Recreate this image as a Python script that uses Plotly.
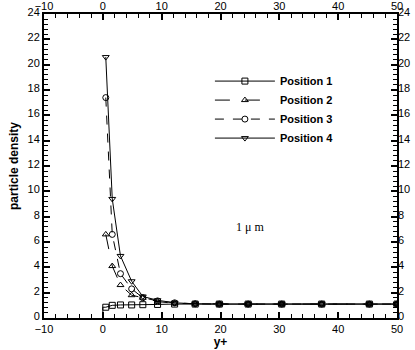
import plotly.graph_objects as go

# data
y_plus = [0.5, 1.6, 3.0, 4.9, 6.8, 9.3, 12.2, 15.7, 19.8, 24.7, 30.4, 37.2, 45.3, 50.0]
pos1 = [0.85, 1.0, 1.03, 1.03, 1.05, 1.07, 1.1, 1.1, 1.1, 1.1, 1.1, 1.1, 1.1, 1.1]
pos2 = [6.6, 4.1, 2.6, 1.8, 1.6, 1.3, 1.15, 1.12, 1.1, 1.1, 1.1, 1.1, 1.1, 1.1]
pos3 = [17.4, 6.6, 3.5, 2.3, 1.6, 1.35, 1.2, 1.12, 1.1, 1.1, 1.1, 1.1, 1.1, 1.1]
pos4 = [20.6, 9.4, 4.9, 2.9, 1.7, 1.4, 1.2, 1.12, 1.1, 1.1, 1.1, 1.1, 1.1, 1.1]
wall_x = [0.0, 0.0, 0.5]
wall_y = [0.0, 0.85, 0.85]

series_names = ["Position 1", "Position 2", "Position 3", "Position 4"]
x_ticks = [-10, 0, 10, 20, 30, 40, 50]
y_ticks = list(range(0, 25, 2))

FONT = "Liberation Sans, Arial, Helvetica, sans-serif"

fig = go.Figure()

styles = [
    ("square-open", "solid", pos1),
    ("triangle-up-open", "longdash", pos2),
    ("circle-open", "dash", pos3),
    ("triangle-down-open", "solid", pos4),
]
for name, (sym, dash, vals) in zip(series_names, styles):
    fig.add_trace(go.Scatter(
        x=y_plus, y=vals, name=name, mode="lines+markers",
        line=dict(color="black", width=1, dash=dash),
        marker=dict(symbol=sym, size=6, color="black", line=dict(width=1, color="black")),
    ))

fig.add_trace(go.Scatter(x=wall_x, y=wall_y, mode="lines", showlegend=False,
                         line=dict(color="black", width=1), hoverinfo="skip"))

# invisible trace to activate top/right axes
fig.add_trace(go.Scatter(x=[x_ticks[0], x_ticks[-1]], y=[y_ticks[0], y_ticks[-1]],
                         xaxis="x2", yaxis="y2", mode="markers",
                         marker=dict(opacity=0), showlegend=False, hoverinfo="skip"))

axis_common = dict(
    ticks="inside", ticklen=6, tickwidth=2, tickcolor="black",
    showgrid=False, zeroline=False, automargin=False,
    tickfont=dict(family=FONT, size=11, color="black"),
)
minor_x = dict(dtick=2, ticks="inside", ticklen=4, tickwidth=1, tickcolor="black")
minor_y = dict(dtick=0.4, ticks="inside", ticklen=4, tickwidth=1, tickcolor="black")

fig.update_layout(
    width=415, height=350,
    margin=dict(l=44, r=18, t=14, b=32, autoexpand=False),
    paper_bgcolor="white", plot_bgcolor="white",
    font=dict(family=FONT, color="black"),
    xaxis=dict(range=[-10, 50], tickvals=x_ticks, showline=True, linewidth=2,
               linecolor="black", mirror=True, minor=minor_x,
               title=dict(text="<b>y+</b>", font=dict(family=FONT, size=12), standoff=0),
               **axis_common),
    yaxis=dict(range=[0, 24], tickvals=y_ticks, showline=True, linewidth=2,
               linecolor="black", mirror=True, minor=minor_y, ticklabelshift=-2,
               title=dict(text="<b>particle density</b>", font=dict(family=FONT, size=12), standoff=6),
               **axis_common),
    xaxis2=dict(range=[-10, 50], tickvals=x_ticks, overlaying="x", side="top",
                showline=False, anchor="y", minor=minor_x, ticklabelstandoff=1, **axis_common),
    yaxis2=dict(range=[0, 24], tickvals=y_ticks, overlaying="y", side="right",
                showline=False, anchor="x", minor=minor_y, ticklabelshift=-2, **axis_common),
    legend=dict(x=0.47, y=0.827, xanchor="left", yanchor="top",
                bgcolor="rgba(0,0,0,0)", borderwidth=0,
                font=dict(family=FONT, size=11, color="black", weight="bold"),
                tracegroupgap=0, itemwidth=60),
    showlegend=True,
)

fig.add_annotation(x=25, y=7.2, xref="x", yref="y", text="1 μ m", showarrow=False,
                   font=dict(family="Liberation Serif, Times New Roman, serif", size=12, color="black"))

fig.write_html("out.html", config={"displayModeBar": False},
               post_script="document.body.style.margin='0';document.body.style.overflow='hidden';"
                           "document.documentElement.style.overflow='hidden';")
